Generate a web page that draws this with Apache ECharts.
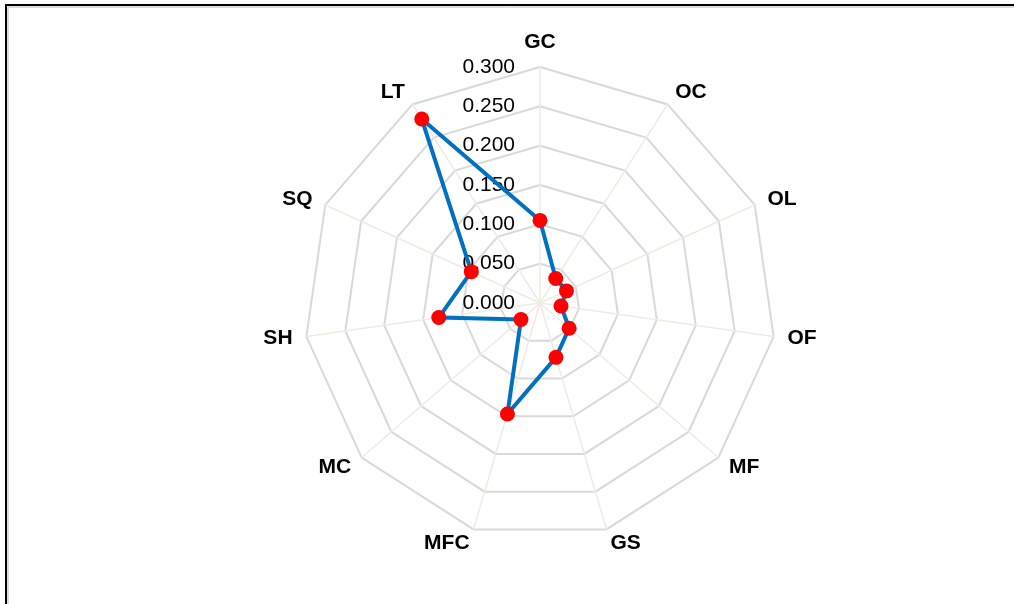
<!DOCTYPE html>
<html>
<head>
<meta charset="utf-8">
<script src="https://cdn.jsdelivr.net/npm/echarts@6/dist/echarts.min.js"></script>
<style>html,body{margin:0;padding:0;background:#fff;}#c{width:1014px;height:604px;}</style>
</head>
<body>
<div id="c"></div>
<script>
// Categories in clockwise order starting at top
const categories = ['GC','OC','OL','OF','MF','GS','MFC','MC','SH','SQ','LT'];
const values = [0.105, 0.037, 0.037, 0.027, 0.049, 0.072, 0.147, 0.032, 0.130, 0.096, 0.278];
const tickLabels = ['0.000','0.050','0.100','0.150','0.200','0.250','0.300'];
const axisMax = 0.3;

// ECharts radar runs counter-clockwise; reorder to get clockwise layout
const order = [0].concat(categories.map((_, i) => i).slice(1).reverse());
const indicators = order.map((idx, k) => {
  const ind = { name: categories[idx], min: 0, max: axisMax };
  if (k === 0) {
    ind.axisLabel = {
      show: true, fontSize: 21, color: '#000', fontFamily: 'Liberation Sans',
      margin: 25,
      formatter: v => tickLabels[Math.round(v / 0.05)] || ''
    };
  }
  return ind;
});
const seriesData = order.map(idx => values[idx]);

const chart = echarts.init(document.getElementById('c'));
chart.setOption({
  animation: false,
  graphic: [{
    type: 'polyline',
    shape: { points: [[6, 700], [6, 5], [1100, 5]] },
    style: { stroke: '#000', lineWidth: 2, fill: null }
  }, {
    type: 'polyline',
    shape: { points: [[8, 700], [8, 7], [1100, 7]] },
    style: { stroke: '#bbb', lineWidth: 1, fill: null }
  }],
  radar: {
    center: [540, 303],
    radius: 236,
    startAngle: 90,
    splitNumber: 6,
    shape: 'polygon',
    nameGap: 14,
    axisName: { color: '#000', fontWeight: 'bold', fontSize: 21, fontFamily: 'Liberation Sans' },
    splitArea: { show: false },
    splitLine: { lineStyle: { color: '#D9D9D9', width: 2 } },
    axisLine: { lineStyle: { color: '#EEECE1', width: 1.5 } },
    axisTick: { show: false },
    indicator: indicators
  },
  series: [{
    type: 'radar',
    symbol: 'circle',
    symbolSize: 15,
    lineStyle: { color: '#0070C0', width: 4 },
    itemStyle: { color: '#FF0000' },
    data: [{ value: seriesData }]
  }]
});
</script>
</body>
</html>
